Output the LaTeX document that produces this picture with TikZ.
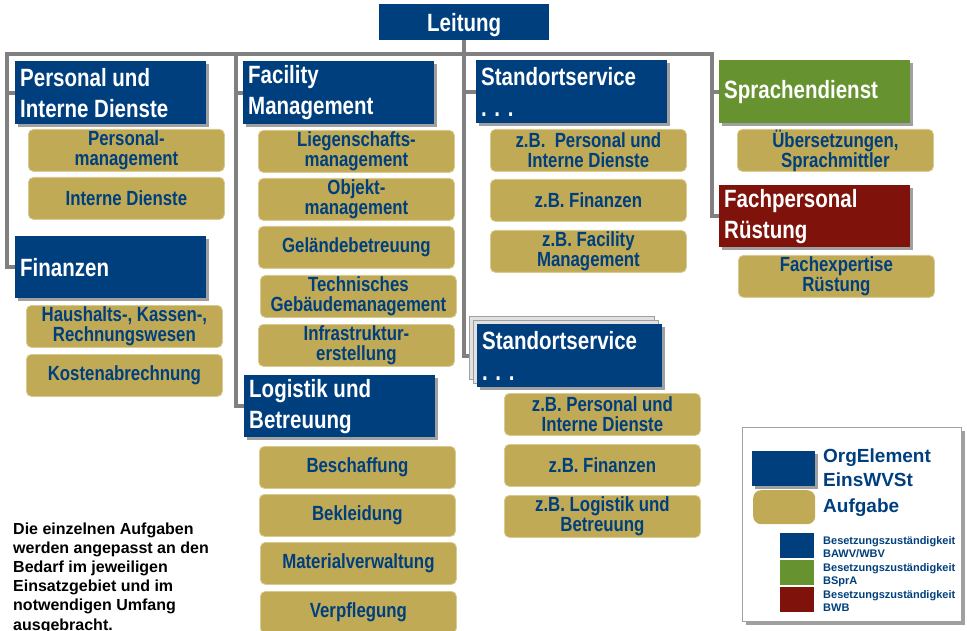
\documentclass[tikz,border=0pt]{standalone}
\usepackage{fontspec}
\setmainfont{Liberation Sans}
\newfontfamily\nar[FakeStretch=0.82]{Liberation Sans}
\usetikzlibrary{shadows}
\definecolor{orgblue}{RGB}{0,63,126}
\definecolor{tan}{RGB}{192,170,86}
\definecolor{tanedge}{RGB}{216,203,146}
\definecolor{sgreen}{RGB}{102,147,47}
\definecolor{sred}{RGB}{127,18,10}
\definecolor{lgray}{RGB}{128,128,128}
\definecolor{shgray}{RGB}{160,160,160}
\definecolor{stackgray}{RGB}{225,225,225}
\pgfdeclarelayer{back}
\pgfdeclarelayer{bg}
\pgfsetlayers{back,bg,main}
\begin{document}
\begin{tikzpicture}[x=1pt,y=-1pt,
  conn/.style={draw=lgray, line width=4pt},
  shad/.style={general shadow={fill=shgray, shadow xshift=3pt, shadow yshift=-3pt}},
  hd/.style={anchor=north west, fill=#1, text=white, shad,
    font=\nar\bfseries\fontsize{25}{31}\selectfont, align=flush left,
    text width=181pt, minimum width=191pt, minimum height=63pt,
    inner xsep=5pt, inner ysep=0pt},
  task/.style={anchor=north west, fill=tan, draw=tanedge, line width=0.8pt,
    rounded corners=5pt, text=orgblue,
    font=\nar\bfseries\fontsize{20.5}{20}\selectfont, align=center,
    minimum width=196pt, minimum height=42pt, inner sep=0pt},
  stackbox/.style={anchor=north west, fill=stackgray, draw=shgray, line width=0.8pt,
    minimum width=185pt, minimum height=63pt, inner sep=0pt},
  legbig/.style={anchor=base west, text=orgblue, inner sep=0pt,
    font=\bfseries\fontsize{19}{22}\selectfont},
  legsmall/.style={anchor=base west, text=orgblue, inner sep=0pt,
    font=\bfseries\fontsize{11}{13}\selectfont},
  sq/.style={anchor=north west, fill=#1, minimum width=34pt, minimum height=25pt, inner sep=0pt},
]
\begin{pgfonlayer}{back}
\fill[white] (0,0) rectangle (967,631);
\end{pgfonlayer}
\useasboundingbox (0,0) rectangle (967,631);

% Leitung
\node[anchor=north west, fill=orgblue, text=white, font=\nar\bfseries\fontsize{25}{31}\selectfont,
  minimum width=170pt, minimum height=36pt, inner sep=0pt, text height=18pt, text depth=0pt] (leit) at (379,4) {Leitung};

% column 1
\node[hd=orgblue] (pers) at (15,61) {Personal und\\Interne Dienste};
\node[task] (t11) at (28,129) {Personal-\\management};
\node[task] (t12) at (28,177) {Interne Dienste};
\node[hd=orgblue, minimum height=62pt] (fin) at (15,236) {Finanzen};
\node[task] (t13) at (26,305) {Haushalts-, Kassen-,\\Rechnungswesen};
\node[task] (t14) at (26,354) {Kostenabrechnung};

% column 2
\node[hd=orgblue] (fm) at (243,61) {Facility\\Management};
\node[task] (t21) at (258,130) {Liegenschafts-\\management};
\node[task] (t22) at (258,178) {Objekt-\\management};
\node[task] (t23) at (258,226) {Geländebetreuung};
\node[task] (t24) at (260,275) {Technisches\\Gebäudemanagement};
\node[task] (t25) at (258,324) {Infrastruktur-\\erstellung};
\node[hd=orgblue, minimum height=62pt] (log) at (244,375) {Logistik und\\Betreuung};
\node[task] (t26) at (259,446) {Beschaffung};
\node[task] (t27) at (259,494) {Bekleidung};
\node[task] (t28) at (260,542) {Materialverwaltung};
\node[task] (t29) at (260,591) {Verpflegung};

% column 3
\node[hd=orgblue] (sst1) at (476,60) {Standortservice\\. . .};
\node[task] (t31) at (490,129) {z.B.\ \ Personal und\\Interne Dienste};
\node[task] (t32) at (490,179) {z.B. Finanzen};
\node[task] (t33) at (490,230) {z.B. Facility\\Management};
\node[stackbox] (sst2b) at (469,316) {};
\node[stackbox] (sst2c) at (473,320) {};
\node[hd=orgblue, minimum width=185pt, text width=175pt] (sst2) at (477,324) {Standortservice\\. . .};
\node[task] (t34) at (504,393) {z.B. Personal und\\Interne Dienste};
\node[task] (t35) at (504,444) {z.B. Finanzen};
\node[task] (t36) at (504,495) {z.B. Logistik und\\Betreuung};

% column 4
\node[hd=sgreen] (spr) at (719,60) {Sprachendienst};
\node[task] (t41) at (737,129) {Übersetzungen,\\Sprachmittler};
\node[hd=sred, minimum height=62pt] (fach) at (719,185) {Fachpersonal\\Rüstung};
\node[task] (t42) at (738,255) {Fachexpertise\\Rüstung};

% connectors
\begin{pgfonlayer}{bg}
\coordinate (bl) at (7,54);
\coordinate (bm) at (236,54);
\coordinate (br) at (712,54);
\draw[conn] (fin.west) -| (bl) -- (br) |- (fach.west);
\draw[conn] (pers.west) -- (pers.west -| bl);
\draw[conn] (bm) |- (log.west);
\draw[conn] (fm.west) -- (fm.west -| bm);
\draw[conn] (leit.south) |- (sst2.west);
\draw[conn] (sst1.west) -- (sst1.west -| leit.south);
\draw[conn] (spr.west) -- (spr.west -| br);
\end{pgfonlayer}

% note
\node[anchor=north west, inner sep=0pt, align=left, text=black,
  font=\bfseries\fontsize{16}{19.2}\selectfont] (note) at (13,522.3)
  {Die einzelnen Aufgaben\\werden angepasst an den\\Bedarf im jeweiligen\\Einsatzgebiet und im\\notwendigen Umfang\\ausgebracht.};

% legend
\node[anchor=north west, fill=white, draw=shgray, line width=1pt, shad,
  minimum width=219pt, minimum height=194pt, inner sep=0pt] (leg) at (742,427) {};
\node[anchor=north west, fill=orgblue, shad, minimum width=63pt, minimum height=35pt, inner sep=0pt] (lorg) at (752,451) {};
\node[anchor=north west, fill=tan, rounded corners=8pt, minimum width=62pt, minimum height=34pt, inner sep=0pt] (ltask) at (753,490) {};
\node[legbig] (l1) at (823,462) {OrgElement};
\node[legbig] (l2) at (823,486) {EinsWVSt};
\node[legbig] (l3) at (823,512) {Aufgabe};
\node[sq=orgblue] (s1) at (780,533) {};
\node[sq=sgreen] (s2) at (780,560) {};
\node[sq=sred] (s3) at (780,587) {};
\node[legsmall] (b1) at (823,544) {Besetzungszuständigkeit};
\node[legsmall] (b1b) at (823,557) {BAWV/WBV};
\node[legsmall] (b2) at (823,571) {Besetzungszuständigkeit};
\node[legsmall] (b2b) at (823,584) {BSprA};
\node[legsmall] (b3) at (823,598) {Besetzungszuständigkeit};
\node[legsmall] (b3b) at (823,611) {BWB};
\end{tikzpicture}
\end{document}
